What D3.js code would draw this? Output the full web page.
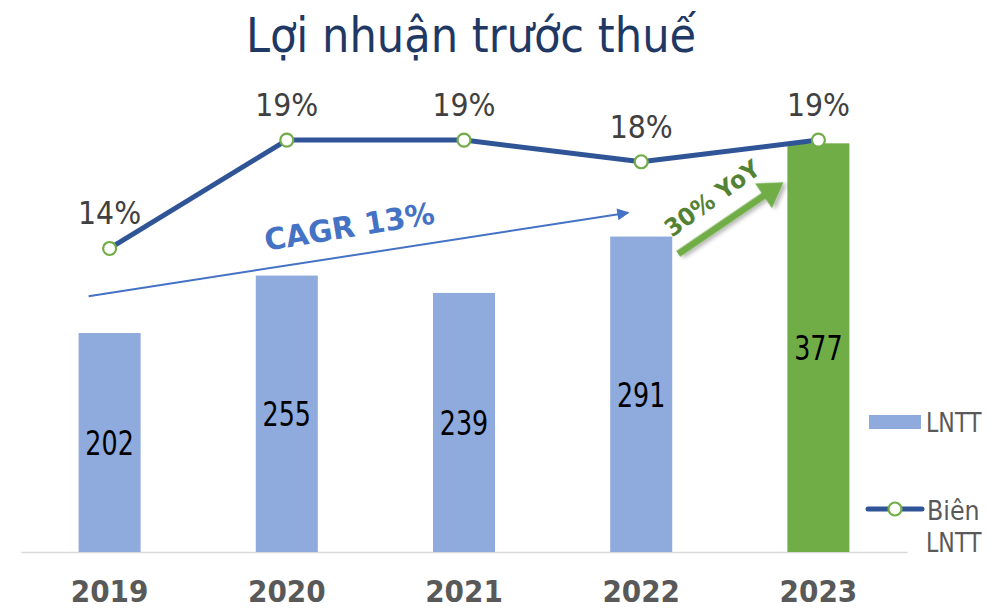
<!DOCTYPE html>
<html>
<head>
<meta charset="utf-8">
<script src="https://cdn.jsdelivr.net/npm/d3@7"></script>
<style>
  html, body { margin: 0; padding: 0; background: #fff; }
  svg { display: block; }
  text { font-family: "DejaVu Sans", Verdana, sans-serif; }
</style>
</head>
<body>
<svg id="chart" width="989" height="610"></svg>
<script>
// ---- data ----
const title = "Lợi nhuận trước thuế";
const years = ["2019", "2020", "2021", "2022", "2023"];
const profit = [202, 255, 239, 291, 377];          // LNTT (bars)
const margin = [14, 19, 19, 18, 19];               // Biên LNTT (%)
const highlightYear = "2023";
const legendLabels = ["LNTT", "Biên LNTT"];
// annotations expressed in data units
const cagrText = "CAGR 13%";
const cagrFrom = { year: "2019", value: 236 };
const cagrTo = { year: "2022", value: 313 };
const yoyText = "30% YoY";
const yoyFrom = { year: "2022", value: 275 };
const yoyTo = { year: "2023", value: 341 };

// ---- styles ----
const C = {
  title: "#1f3864", bar: "#8faadc", barHi: "#70ad47", line: "#2f5597",
  marker: "#70ad47", pct: "#404040", axisText: "#595959", axis: "#d9d9d9",
  cagr: "#4472c4", yoyArrow: "#70ad47", yoyText: "#548235"
};

const svg = d3.select("#chart");
const plot = { left: 21, right: 907, top: 10, bottom: 552 };

const x = d3.scaleBand().domain(years).range([plot.left, plot.right]).paddingInner(0.65).paddingOuter(0.325);
const yBar = d3.scaleLinear().domain([0, 500]).range([plot.bottom, plot.top]);
const yLine = d3.scaleLinear().domain([0, 25]).range([plot.bottom, plot.top]);
const cx = d => x(d) + x.bandwidth() / 2;

function condense(sel, f) {
  sel.each(function () {
    const len = this.getComputedTextLength();
    d3.select(this).attr("textLength", len * f).attr("lengthAdjust", "spacingAndGlyphs");
  });
}

const defs = svg.append("defs");
defs.append("marker").attr("id", "cagrHead").attr("viewBox", "0 0 10 10")
  .attr("refX", 9).attr("refY", 5).attr("markerWidth", 7).attr("markerHeight", 6)
  .attr("markerUnits", "strokeWidth").attr("orient", "auto")
  .append("path").attr("d", "M0,0 L10,5 L0,10 Z").attr("fill", C.cagr);
const sh = defs.append("filter").attr("id", "shadow").attr("x", "-20%").attr("y", "-20%").attr("width", "150%").attr("height", "150%");
sh.append("feDropShadow").attr("dx", 2).attr("dy", 3).attr("stdDeviation", 2).attr("flood-color", "#000").attr("flood-opacity", 0.3);

// title
svg.append("text").attr("x", 471).attr("y", 52).attr("text-anchor", "middle")
  .attr("font-size", 48).attr("fill", C.title).text(title)
  .call(condense, 0.9);

// axis line
const xAxis = d3.axisBottom(x).tickSize(0).tickPadding(30);
const gx = svg.append("g").attr("transform", `translate(0,${plot.bottom})`).call(xAxis);
gx.select(".domain").attr("stroke", C.axis).attr("stroke-width", 1.5);
gx.selectAll(".tick text").attr("font-family", "'DejaVu Sans', sans-serif")
  .attr("font-size", 31).attr("font-weight", "bold").attr("fill", C.axisText)
  .attr("dy", 0).attr("y", 50).call(condense, 0.9);

// bars
const data = years.map((y, i) => ({ year: y, profit: profit[i], margin: margin[i] }));
svg.append("g").selectAll("rect").data(data).join("rect")
  .attr("x", d => x(d.year)).attr("width", x.bandwidth())
  .attr("y", d => yBar(d.profit)).attr("height", d => yBar(0) - yBar(d.profit))
  .attr("fill", d => d.year === highlightYear ? C.barHi : C.bar);

// bar labels
svg.append("g").selectAll("text").data(data).join("text")
  .attr("x", d => cx(d.year)).attr("y", d => (yBar(d.profit) + yBar(0)) / 2 + 12.5)
  .attr("text-anchor", "middle").attr("font-size", 33).attr("fill", "#000")
  .text(d => d.profit).call(condense, 0.77);

// line
const line = d3.line().x(d => cx(d.year)).y(d => yLine(d.margin));
svg.append("path").datum(data).attr("d", line).attr("fill", "none")
  .attr("stroke", C.line).attr("stroke-width", 5).attr("stroke-linejoin", "round");
svg.append("g").selectAll("circle").data(data).join("circle")
  .attr("cx", d => cx(d.year)).attr("cy", d => yLine(d.margin)).attr("r", 6.5)
  .attr("fill", "#fff").attr("stroke", C.marker).attr("stroke-width", 2.2);
svg.append("g").selectAll("text").data(data).join("text")
  .attr("x", d => cx(d.year)).attr("y", d => yLine(d.margin) - 24)
  .attr("text-anchor", "middle").attr("font-size", 31.5).attr("fill", C.pct)
  .text(d => d.margin + "%").call(condense, 0.9);

// CAGR annotation
const cx0 = x(cagrFrom.year) + 10, cy0 = yBar(cagrFrom.value);
const cx1 = x(cagrTo.year) + 18, cy1 = yBar(cagrTo.value);
svg.append("line").attr("x1", cx0).attr("y1", cy0).attr("x2", cx1).attr("y2", cy1)
  .attr("stroke", C.cagr).attr("stroke-width", 2).attr("marker-end", "url(#cagrHead)");
const cagAng = Math.atan2(cy1 - cy0, cx1 - cx0) * 180 / Math.PI;
svg.append("text").attr("transform", `translate(351,237) rotate(${cagAng - 0.5})`)
  .attr("text-anchor", "middle").attr("font-size", 30).attr("font-weight", "bold")
  .attr("fill", C.cagr).text(cagrText).call(condense, 0.98);

// YoY annotation
const yx0 = x(yoyFrom.year) + x.bandwidth() + 6, yy0 = yBar(yoyFrom.value);
const yx1 = x(yoyTo.year) - 4, yy1 = yBar(yoyTo.value);
const ang = Math.atan2(yy1 - yy0, yx1 - yx0);
const len = Math.hypot(yx1 - yx0, yy1 - yy0);
const headL = 24, headW = 30, shaftW = 7;
const gArrow = svg.append("g").attr("transform", `translate(${yx0},${yy0}) rotate(${ang * 180 / Math.PI})`)
  .attr("filter", "url(#shadow)");
gArrow.append("path")
  .attr("d", `M0,${-shaftW / 2} L${len - headL},${-shaftW / 2} L${len - headL},${-headW / 2} L${len},0 L${len - headL},${headW / 2} L${len - headL},${shaftW / 2} L0,${shaftW / 2} Z`)
  .attr("fill", C.yoyArrow);
svg.append("text").attr("transform", `translate(717,205) rotate(-36)`)
  .attr("text-anchor", "middle").attr("font-size", 24).attr("font-weight", "bold")
  .attr("fill", C.yoyText).text(yoyText).call(condense, 0.97);

// legend
const lg = svg.append("g");
lg.append("rect").attr("x", 869).attr("y", 415).attr("width", 52).attr("height", 14).attr("fill", C.bar);
const legText = (tx, ty, s, sx) => lg.append("text")
  .attr("transform", `translate(${tx},${ty}) scale(${sx},1)`)
  .attr("font-size", 27).attr("fill", C.axisText).text(s);
legText(926, 432, legendLabels[0], 0.82);
lg.append("line").attr("x1", 868).attr("x2", 922).attr("y1", 509).attr("y2", 509)
  .attr("stroke", C.line).attr("stroke-width", 5).attr("stroke-linecap", "round");
lg.append("circle").attr("cx", 895).attr("cy", 509).attr("r", 6.5)
  .attr("fill", "#fff").attr("stroke", C.marker).attr("stroke-width", 2.2);
const parts = legendLabels[1].split(" ");
legText(927, 520, parts[0], 0.88);
legText(926, 552, parts[1], 0.82);
</script>
</body>
</html>
